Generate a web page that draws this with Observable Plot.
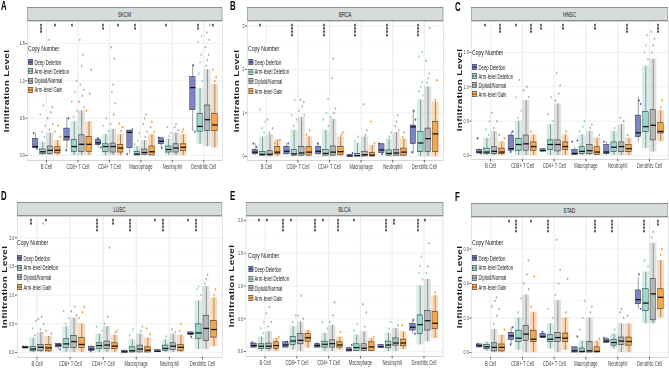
<!DOCTYPE html>
<html><head><meta charset="utf-8">
<script src="https://cdn.jsdelivr.net/npm/d3@7"></script>
<script src="https://cdn.jsdelivr.net/npm/@observablehq/plot@0.6"></script>
<style>
body{margin:0;background:#fff;}
#fig{position:relative;width:669px;height:372px;overflow:hidden;background:#fff;font-family:"Liberation Sans",Arial,sans-serif;}
#inner{position:absolute;left:0;top:0;width:1030px;height:372px;transform:scaleX(0.65);transform-origin:0 0;}
</style></head><body>
<div id="fig"><div id="inner"></div></div>
<script>
// ---------- categories ----------
const cells = ["B Cell","CD8+ T Cell","CD4+ T Cell","Macrophage","Neutrophil","Dendritic Cell"];
const groups = ["Deep Deletion","Arm-level Deletion","Diploid/Normal","Arm-level Gain"];
const groupColors = ["#4450aa","#82ccbf","#a0a6a6","#f7901e"];

// ---------- box stats: [lo, q1, median, q3, hi] per cell, one array per copy-number group ----------
// SKCM
const skcmBox = [
 [[0.09,0.10,0.12,0.22,0.30],[0.08,0.20,0.25,0.36,0.50],[0.10,0.14,0.17,0.21,0.24],[0.02,0.10,0.31,0.33,0.35],[0.10,0.15,0.19,0.23,0.24],[0.32,0.61,0.91,1.05,1.21]],
 [[0.00,0.02,0.05,0.08,0.18],[0.00,0.05,0.12,0.21,0.45],[0.00,0.05,0.12,0.15,0.28],[0.00,0.00,0.02,0.05,0.12],[0.00,0.04,0.08,0.12,0.22],[0.15,0.32,0.39,0.56,0.90]],
 [[0.00,0.02,0.07,0.12,0.30],[0.00,0.05,0.15,0.27,0.60],[0.00,0.04,0.12,0.16,0.35],[0.00,0.01,0.04,0.08,0.20],[0.00,0.04,0.10,0.15,0.30],[0.12,0.33,0.48,0.67,1.15]],
 [[0.00,0.03,0.07,0.11,0.20],[0.00,0.05,0.15,0.25,0.45],[0.00,0.04,0.10,0.14,0.28],[0.00,0.00,0.05,0.12,0.28],[0.00,0.06,0.11,0.15,0.28],[0.10,0.33,0.41,0.56,0.95]]
];
const skcmPts = [
 [[0.30,0.09],[0.50,0.07],[0.23,0.11],[0.35,0.02],[0.24,0.10],[1.21,0.32]],
 [[0.25,0.32,0.40,0.55,0.67],[0.52,0.60,0.72,0.85,1.00],[0.33,0.40,0.50],[0.15,0.20,0.30],[0.26,0.30,0.38],[1.00,1.10,1.25,1.35,1.52,1.60]],
 [[0.35,0.42,0.50,0.58,0.65,1.55],[0.65,0.72,0.80,0.88,0.95,1.20,1.35,1.55],[0.42,0.55,0.70,0.85,0.95,1.30,1.45],[0.25,0.32,0.42,0.50,0.55],[0.34,0.38,0.42],[1.20,1.28,1.35,1.45,1.55,1.65,1.75]],
 [[0.25,0.32,0.40],[0.60,0.83,1.15],[0.33,0.38,0.43],[0.32,0.38,0.45],[0.32,0.35],[1.00,1.05,1.15]]
];
const skcmSig = [["B Cell","Arm-level Deletion","***"],["B Cell","Arm-level Gain","*"],["CD8+ T Cell","Arm-level Deletion","*"],["CD4+ T Cell","Arm-level Deletion","**"],["CD4+ T Cell","Arm-level Gain","*"],["Macrophage","Arm-level Deletion","**"],["Neutrophil","Arm-level Deletion","*"],["Dendritic Cell","Arm-level Deletion","**"],["Dendritic Cell","Arm-level Gain","*"]];

// BRCA
const brcaBox = [
 [[0.02,0.05,0.10,0.15,0.30],[0.03,0.05,0.12,0.22,0.30],[0.03,0.05,0.12,0.22,0.30],[0.00,0.00,0.01,0.03,0.06],[0.05,0.08,0.15,0.28,0.30],[0.06,0.29,0.68,0.71,1.06]],
 [[0.00,0.02,0.05,0.10,0.45],[0.00,0.02,0.06,0.15,0.60],[0.00,0.02,0.07,0.15,0.60],[0.00,0.00,0.02,0.06,0.30],[0.00,0.02,0.07,0.14,0.40],[0.00,0.10,0.31,0.56,1.30]],
 [[0.00,0.02,0.05,0.12,0.50],[0.00,0.02,0.08,0.22,0.90],[0.00,0.02,0.10,0.23,0.85],[0.00,0.00,0.04,0.10,0.45],[0.00,0.02,0.08,0.15,0.55],[0.00,0.10,0.41,0.64,1.60]],
 [[0.00,0.05,0.10,0.22,0.38],[0.00,0.02,0.10,0.22,0.45],[0.00,0.04,0.11,0.22,0.45],[0.00,0.00,0.03,0.08,0.25],[0.00,0.02,0.10,0.18,0.40],[0.00,0.10,0.52,0.79,1.25]]
];
const brcaPts = [
 [[0.30,0.22],[0.30],[0.30],[0.08],[0.30,0.05],[1.05,0.85,0.10]],
 [[0.55,0.65,0.80,1.08],[0.70,0.85,0.95,1.30],[0.70,0.85,1.00,1.32],[0.35,0.45],[0.45,0.55],[1.40,1.50,1.60,1.70,2.30,2.40]],
 [[0.55,0.65,0.85],[0.95,1.05,1.15,1.25,1.30],[0.90,1.00,1.10,1.80,2.25],[0.50,0.60,1.20],[0.60,0.70,0.80,0.95],[1.70,1.80,1.90,2.20,2.95]],
 [[0.38,0.30],[0.50,0.60],[0.50,0.55],[0.30,0.80],[0.45,0.55],[1.30,1.75]]
];
const brcaSig = [["B Cell","Arm-level Deletion","*"],["CD8+ T Cell","Arm-level Deletion","****"],["CD4+ T Cell","Arm-level Deletion","****"],["Macrophage","Arm-level Deletion","****"],["Neutrophil","Arm-level Deletion","****"],["Dendritic Cell","Arm-level Deletion","****"]];

// HNSC
const hnscBox = [
 [[0.02,0.03,0.05,0.08,0.10],[0.05,0.07,0.10,0.29,0.35],[0.05,0.06,0.07,0.09,0.10],[0.00,0.01,0.03,0.08,0.12],[0.00,0.02,0.05,0.15,0.20],[0.19,0.27,0.33,0.58,0.85]],
 [[0.00,0.02,0.05,0.10,0.25],[0.00,0.07,0.16,0.24,0.50],[0.00,0.08,0.16,0.22,0.45],[0.00,0.02,0.06,0.12,0.30],[0.00,0.05,0.12,0.19,0.35],[0.10,0.34,0.42,0.63,1.30]],
 [[0.00,0.02,0.06,0.12,0.35],[0.00,0.07,0.17,0.29,0.80],[0.00,0.06,0.16,0.22,0.75],[0.00,0.02,0.07,0.15,0.35],[0.00,0.05,0.13,0.19,0.45],[0.05,0.22,0.44,0.66,1.40]],
 [[0.00,0.02,0.05,0.10,0.20],[0.00,0.07,0.13,0.19,0.30],[0.00,0.08,0.13,0.19,0.30],[0.00,0.01,0.05,0.12,0.25],[0.00,0.05,0.10,0.15,0.25],[0.20,0.32,0.35,0.47,0.65]]
];
const hnscPts = [
 [[0.25,0.03],[0.35,0.05],[],[0.22,0.20],[0.20],[0.80,0.75]],
 [[0.30,0.38,0.50],[0.55,0.65,0.85,1.10],[0.50,0.60,0.85],[0.35,0.42,0.50],[0.40],[1.40,1.50,1.60,1.75]],
 [[0.40,0.50,0.62],[0.85,0.95,1.00],[0.80,0.90,1.02,1.20],[0.40,0.45],[0.50,0.55],[1.50,1.60,1.70,1.80]],
 [[0.25,0.30],[0.35],[0.35],[0.30],[0.30],[0.70,0.80]]
];
const hnscSig = [["B Cell","Arm-level Deletion","*"],["B Cell","Arm-level Gain","***"],["CD8+ T Cell","Arm-level Deletion","*"],["CD8+ T Cell","Arm-level Gain","***"],["CD4+ T Cell","Deep Deletion","**"],["CD4+ T Cell","Arm-level Gain","**"],["Macrophage","Arm-level Gain","**"],["Neutrophil","Arm-level Gain","***"],["Dendritic Cell","Arm-level Gain","***"]];

// LUSC
const luscBox = [
 [[0.06,0.07,0.09,0.10,0.11],[0.05,0.09,0.13,0.15,0.16],[0.02,0.03,0.06,0.10,0.12],[0.00,0.00,0.01,0.03,0.04],[0.00,0.01,0.02,0.04,0.05],[0.27,0.31,0.33,0.35,0.36]],
 [[0.00,0.02,0.06,0.10,0.25],[0.00,0.08,0.15,0.23,0.45],[0.00,0.06,0.12,0.16,0.32],[0.00,0.00,0.03,0.09,0.22],[0.00,0.03,0.07,0.12,0.22],[0.05,0.24,0.34,0.49,0.90]],
 [[0.00,0.03,0.09,0.13,0.35],[0.00,0.08,0.19,0.29,0.60],[0.00,0.06,0.13,0.19,0.45],[0.00,0.00,0.06,0.12,0.32],[0.00,0.04,0.11,0.16,0.32],[0.05,0.20,0.42,0.64,1.15]],
 [[0.00,0.02,0.08,0.13,0.28],[0.00,0.08,0.14,0.25,0.50],[0.00,0.06,0.11,0.16,0.30],[0.00,0.00,0.04,0.09,0.25],[0.00,0.03,0.09,0.13,0.30],[0.10,0.26,0.40,0.55,0.95]]
];
const luscPts = [
 [[0.10],[0.05],[0.02],[],[],[0.27]],
 [[0.30,0.42,0.55],[0.50,0.60,0.72],[0.38,0.45],[0.30,0.40],[0.28],[1.00,1.10,1.15]],
 [[0.40,0.50,0.58,0.62,2.25],[0.65,0.72,0.80],[0.50,0.62,1.83],[0.38,0.45],[0.36,0.40],[1.20,1.28,1.35]],
 [[0.33,0.38],[0.60,0.70,0.80],[0.35,0.38],[0.32,0.42],[0.38,0.50],[1.00,1.10]]
];
const luscSig = [["B Cell","Arm-level Deletion","**"],["B Cell","Arm-level Gain","*"],["CD4+ T Cell","Arm-level Deletion","****"],["CD4+ T Cell","Arm-level Gain","**"],["Macrophage","Arm-level Deletion","****"],["Neutrophil","Deep Deletion","*"],["Neutrophil","Arm-level Deletion","****"],["Dendritic Cell","Deep Deletion","*"],["Dendritic Cell","Arm-level Deletion","****"]];

// BLCA
const blcaBox = [
 [[0.05,0.06,0.09,0.12,0.14],[0.05,0.06,0.10,0.14,0.15],[0.05,0.06,0.09,0.11,0.13],[0.00,0.00,0.025,0.05,0.07],[0.05,0.06,0.07,0.10,0.10],[0.27,0.32,0.37,0.42,0.48]],
 [[0.00,0.04,0.08,0.11,0.22],[0.02,0.10,0.16,0.22,0.38],[0.00,0.06,0.11,0.15,0.28],[0.00,0.01,0.06,0.11,0.25],[0.00,0.05,0.10,0.15,0.28],[0.10,0.27,0.41,0.55,1.00]],
 [[0.00,0.04,0.08,0.12,0.30],[0.00,0.11,0.17,0.27,0.45],[0.00,0.06,0.12,0.17,0.40],[0.00,0.01,0.05,0.11,0.30],[0.00,0.09,0.13,0.20,0.35],[0.15,0.32,0.47,0.62,1.10]],
 [[0.00,0.04,0.09,0.14,0.20],[0.05,0.15,0.21,0.27,0.32],[0.02,0.06,0.10,0.14,0.22],[0.00,0.01,0.07,0.14,0.20],[0.03,0.08,0.13,0.18,0.30],[0.20,0.34,0.43,0.60,0.85]]
];
const blcaPts = [
 [[0.14],[0.15],[0.12],[0.10],[],[0.48,0.27]],
 [[0.28,0.35,0.45],[0.45,0.55],[0.35,0.45],[0.32,0.42],[0.35,0.45],[1.10,1.20,1.30,1.45]],
 [[0.38,0.45,0.58,0.68],[0.50,0.55,0.85],[0.45,0.55,0.75],[0.38,0.60,0.72],[0.40],[1.20,1.30,1.65]],
 [[0.22],[],[0.30],[0.22],[0.40],[0.90]]
];
const blcaSig = [["B Cell","Arm-level Deletion","*"],["B Cell","Diploid/Normal","*"],["CD8+ T Cell","Deep Deletion","****"],["CD8+ T Cell","Arm-level Deletion","*"],["CD4+ T Cell","Deep Deletion","****"],["CD4+ T Cell","Arm-level Deletion","*"],["CD4+ T Cell","Arm-level Gain","****"],["Macrophage","Arm-level Deletion","*"],["Neutrophil","Arm-level Deletion","****"],["Neutrophil","Diploid/Normal","**"],["Dendritic Cell","Arm-level Deletion","****"],["Dendritic Cell","Diploid/Normal","*"]];

// STAD
const stadBox = [
 [[0.04,0.045,0.058,0.07,0.075],[0.07,0.11,0.145,0.17,0.22],[0.12,0.125,0.14,0.16,0.18],[0.00,0.00,0.015,0.045,0.05],[0.08,0.085,0.10,0.115,0.13],[0.38,0.42,0.46,0.54,0.65]],
 [[0.01,0.03,0.05,0.067,0.09],[0.02,0.09,0.125,0.19,0.30],[0.03,0.09,0.116,0.15,0.25],[0.00,0.00,0.01,0.035,0.10],[0.03,0.06,0.087,0.11,0.16],[0.25,0.36,0.43,0.55,0.70]],
 [[0.00,0.01,0.045,0.08,0.20],[0.00,0.10,0.16,0.23,0.50],[0.00,0.09,0.13,0.17,0.45],[0.00,0.00,0.015,0.09,0.30],[0.00,0.067,0.10,0.13,0.25],[0.25,0.28,0.51,0.64,0.95]],
 [[0.00,0.01,0.045,0.07,0.15],[0.00,0.09,0.116,0.19,0.35],[0.02,0.09,0.125,0.165,0.30],[0.00,0.00,0.01,0.045,0.10],[0.00,0.06,0.096,0.13,0.25],[0.30,0.38,0.48,0.55,0.80]]
];
const stadPts = [
 [[0.075],[0.22,0.07],[0.18],[0.14],[0.13],[0.68,0.38]],
 [[],[0.35,0.47],[0.30,0.38],[0.20,0.30,0.45],[0.20],[0.75,0.80]],
 [[0.25,0.32,0.40,0.45,0.48],[0.55,0.60,0.68,0.80],[0.50,0.60,0.72,0.98],[0.35,0.40],[0.30,0.35,0.38],[1.00,1.05]],
 [[0.20,0.38],[0.40,0.66],[0.35,0.64],[0.12],[0.32],[0.85,0.90]]
];
const stadSig = [["CD8+ T Cell","Deep Deletion","*"],["CD8+ T Cell","Arm-level Deletion","****"],["CD8+ T Cell","Arm-level Gain","*"],["CD4+ T Cell","Arm-level Deletion","****"],["Macrophage","Arm-level Gain","****"],["Neutrophil","Arm-level Deletion","****"],["Dendritic Cell","Arm-level Deletion","****"],["Dendritic Cell","Arm-level Gain","**"]];

// ---------- axis ticks ----------
const ticksHalf = [0, 0.5, 1, 1.5];
const ticksHalf2 = [0, 0.5, 1, 1.5, 2];
const ticksOne = [0, 1, 2, 3];
const ticksTenth3 = [0, 0.3, 0.6, 0.9];

// ---------- layout ----------
const S = 0.65;           // horizontal compression of the whole figure
const OFF = 0.235, BW = 0.088, JW = 0.11;
const JIT = [-0.06, 0.05, -0.02, 0.08, -0.08, 0.02, 0.07, -0.04, 0.0, 0.04];
const FONT = "'Liberation Sans', Arial, sans-serif";

const panels = [
 {tag:"A", name:"SKCM", box:skcmBox, pts:skcmPts, sig:skcmSig, ticks:ticksHalf, minor:[0.25,0.75,1.25,1.75], fmt:d=>d.toFixed(1), yDom:[-0.067,1.796], L:27,R:222,T:21,B:160,stripT:7, tagX:1,tagY:0, titleX:7, lgX:28,lgY:49,lgY1:62,lgDy:9.3},
 {tag:"B", name:"BRCA", box:brcaBox, pts:brcaPts, sig:brcaSig, ticks:ticksOne, minor:[0.5,1.5,2.5], fmt:d=>String(d), yDom:[-0.092,3.10], L:247,R:443,T:21,B:160,stripT:7, tagX:230,tagY:0, titleX:237, lgX:248,lgY:49,lgY1:62,lgDy:9.7},
 {tag:"C", name:"HNSC", box:hnscBox, pts:hnscPts, sig:hnscSig, ticks:ticksHalf, minor:[0.25,0.75,1.25,1.75], fmt:d=>d.toFixed(1), yDom:[-0.058,1.95], L:471,R:668,T:21,B:159,stripT:7, tagX:455,tagY:1, titleX:460, lgX:472,lgY:53,lgY1:67,lgDy:9},
 {tag:"D", name:"LUSC", box:luscBox, pts:luscPts, sig:luscSig, ticks:ticksHalf2, minor:[0.25,0.75,1.25,1.75,2.25], fmt:d=>d.toFixed(1), yDom:[-0.087,2.37], L:17,R:222,T:216,B:357,stripT:202, tagX:1,tagY:190, titleX:5, lgX:17,lgY:243,lgY1:258,lgDy:9.7},
 {tag:"E", name:"BLCA", box:blcaBox, pts:blcaPts, sig:blcaSig, ticks:ticksHalf2, minor:[0.25,0.75,1.25,1.75], fmt:d=>d.toFixed(1), yDom:[-0.076,2.06], L:246,R:443,T:216,B:356,stripT:202, tagX:230,tagY:190, titleX:232, lgX:248,lgY:256,lgY1:269,lgDy:9.7},
 {tag:"F", name:"STAD", box:stadBox, pts:stadPts, sig:stadSig, ticks:ticksTenth3, minor:[0.15,0.45,0.75,1.05], fmt:d=>d.toFixed(1), yDom:[-0.043,1.174], L:471,R:668,T:217,B:357,stripT:203, tagX:455,tagY:191, titleX:460, lgX:472,lgY:243,lgY1:258,lgDy:9.8}
];

const inner = document.getElementById("inner");
function el(tag, css, text){
  const e = document.createElement(tag);
  Object.assign(e.style, css);
  if (text != null) e.textContent = text;
  inner.appendChild(e);
  return e;
}

function drawPanel(p){
  const mL = 20, mR = 1, mB = 15;
  const plotW = (p.R - p.L) / S, plotH = p.B - p.T;
  const rows = [];
  p.box.forEach((garr, gi) => garr.forEach((st, ci) => rows.push({gi, ci, pos: ci + (gi - 1.5) * OFF, lo: st[0], q1: st[1], med: st[2], q3: st[3], hi: st[4], col: groupColors[gi]})));
  const pts = [];
  p.pts.forEach((garr, gi) => garr.forEach((vals, ci) => vals.forEach((v, k) => pts.push({pos: ci + (gi - 1.5) * OFF + JIT[(k + ci + gi) % JIT.length], v, col: groupColors[gi]}))));
  const sig = p.sig.map(([c, g, lab]) => ({pos: cells.indexOf(c) + (groups.indexOf(g) - 1.5) * OFF, lab}));

  const chart = Plot.plot({
    width: plotW + mL + mR, height: plotH + mB,
    marginLeft: mL, marginRight: mR, marginTop: 0, marginBottom: mB,
    style: {fontFamily: FONT, background: "transparent", overflow: "visible"},
    x: {domain: [-0.6, 5.6], axis: null},
    y: {domain: p.yDom, axis: null},
    marks: [
      Plot.gridY(p.minor, {stroke: "#f2f2f2", strokeOpacity: 1, strokeWidth: 0.5}),
      Plot.gridY(p.ticks, {stroke: "#e4e4e4", strokeOpacity: 1, strokeWidth: 0.7}),
      Plot.gridX(d3.range(6), {stroke: "#e4e4e4", strokeOpacity: 1, strokeWidth: 0.9}),
      Plot.rect(rows.filter(d => d.gi > 0), {x1: d => d.pos - JW, x2: d => d.pos + JW, y1: "lo", y2: "hi", fill: "col", fillOpacity: 0.33}),
      Plot.dot(pts, {x: "pos", y: "v", r: 1.2, fill: "col", fillOpacity: 0.9}),
      Plot.ruleX(rows, {x: "pos", y1: "lo", y2: "q1", stroke: "#3a3a3a", strokeWidth: 0.6}),
      Plot.ruleX(rows, {x: "pos", y1: "q3", y2: "hi", stroke: "#3a3a3a", strokeWidth: 0.6}),
      Plot.rect(rows, {x1: d => d.pos - BW, x2: d => d.pos + BW, y1: "q1", y2: "q3", fill: "col", fillOpacity: 0.7, stroke: "#2e2e2e", strokeWidth: 0.6}),
      Plot.link(rows, {x1: d => d.pos - BW, x2: d => d.pos + BW, y1: "med", y2: "med", stroke: "#111", strokeWidth: 1.3}),
      Plot.text(sig, {x: "pos", text: "lab", frameAnchor: "top", rotate: 90, textAnchor: "start", fontSize: 8.5, fontWeight: "bold", fill: "#222", dx: -2, dy: 2}),
      Plot.frame({stroke: "#c4c4c4", strokeWidth: 0.7}),
      Plot.axisX(d3.range(6), {tickFormat: i => cells[i], tickSize: 2.5, tickPadding: 1.5, fontSize: 6.5, color: "#444", label: null}),
      Plot.axisY(p.ticks, {tickFormat: p.fmt, tickSize: 3, tickPadding: 1.5, fontSize: 5.6, color: "#444", label: null})
    ]
  });
  chart.style.position = "absolute";
  chart.style.left = (p.L / S - mL) + "px";
  chart.style.top = p.T + "px";
  inner.appendChild(chart);

  // facet strip
  el("div", {position: "absolute", left: (p.L / S) + "px", top: p.stripT + "px", width: plotW + "px", height: (p.T - p.stripT) + "px",
    background: "#d6dbdb", border: "0.7px solid #8e8e8e", boxSizing: "border-box", display: "flex", alignItems: "center",
    justifyContent: "center", font: "7px " + FONT, color: "#1a1a1a"}, p.name);

  // panel tag
  el("div", {position: "absolute", left: (p.tagX / S) + "px", top: p.tagY + "px", font: "bold 12px " + FONT, lineHeight: "13px", color: "#000"}, p.tag);

  // y title
  el("div", {position: "absolute", left: (p.titleX / S) + "px", top: ((p.T + p.B) / 2) + "px", transform: "translate(-50%,-50%) rotate(-90deg)",
    font: "bold 10px " + FONT, letterSpacing: "0.3px", whiteSpace: "nowrap", color: "#1a1a1a", lineHeight: "10px"}, "Infiltration Level");

  // legend
  el("div", {position: "absolute", left: (p.lgX / S) + "px", top: (p.lgY - 5) + "px", font: "7.8px " + FONT, lineHeight: "10px", whiteSpace: "nowrap", color: "#1a1a1a"}, "Copy Number");
  groups.forEach((g, gi) => {
    const row = el("div", {position: "absolute", left: (p.lgX / S) + "px", top: (p.lgY1 + gi * p.lgDy - 4) + "px", height: "8px",
      display: "flex", alignItems: "center", whiteSpace: "nowrap", font: "6.5px " + FONT, color: "#1a1a1a"});
    const c = groupColors[gi];
    row.innerHTML = `<svg width="8" height="6" style="margin-right:2px;flex:none"><rect x="0.4" y="0.4" width="7.2" height="5.2" fill="${c}" fill-opacity="0.75" stroke="#2e2e2e" stroke-width="0.6"/><line x1="0.4" x2="7.6" y1="3" y2="3" stroke="#111" stroke-width="0.9"/><circle cx="4" cy="3" r="1" fill="${c}"/></svg><span>${g}</span>`;
  });
}

panels.forEach(drawPanel);
</script>
</body></html>
